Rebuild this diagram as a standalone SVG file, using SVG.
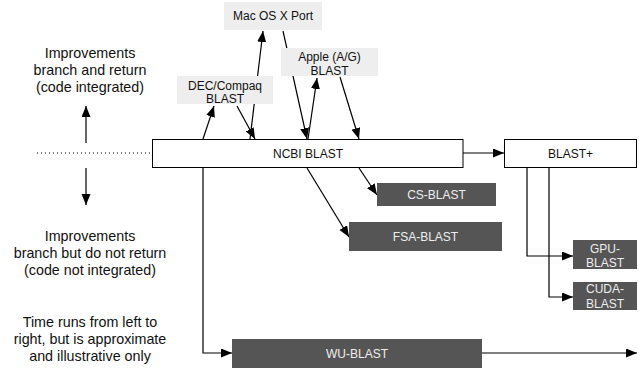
<svg xmlns="http://www.w3.org/2000/svg" width="639" height="370" viewBox="0 0 639 370">
<defs>
<marker id="ah" markerUnits="userSpaceOnUse" markerWidth="12" markerHeight="10" refX="11" refY="4.5" orient="auto">
<path d="M0,0 L11,4.5 L0,9 z" fill="#000"/>
</marker>
<style>
text{font-family:"Liberation Sans",Arial,Helvetica,sans-serif;text-anchor:middle}
.lg{font-size:14.3px;fill:#111}
.bx{font-size:12px;fill:#111}
.dk{font-size:12px;fill:#eeeeee}
.light{fill:#eeeeee}
.dark{fill:#555555}
.main{fill:#fff;stroke:#000;stroke-width:1}
.c{fill:none;stroke:#000;stroke-width:1.2}
.a{marker-end:url(#ah)}
</style>
</defs>
<rect width="639" height="370" fill="#fff"/>

<g id="legend">
<text class="lg" x="90" y="58">Improvements</text>
<text class="lg" x="90" y="75">branch and return</text>
<text class="lg" x="90" y="92">(code integrated)</text>
<text class="lg" x="90" y="240.5">Improvements</text>
<text class="lg" x="90" y="257.5">branch but do not return</text>
<text class="lg" x="90" y="274.5">(code not integrated)</text>
<text class="lg" x="90" y="326.5">Time runs from left to</text>
<text class="lg" x="90" y="343.5">right, but is approximate</text>
<text class="lg" x="90" y="360.5">and illustrative only</text>
<line x1="37" y1="153" x2="150" y2="153" stroke="#000" stroke-width="1" stroke-dasharray="1,3"/>
<line class="c a" x1="86" y1="143" x2="86" y2="106"/>
<line class="c a" x1="86" y1="168" x2="86" y2="205"/>
</g>

<g id="connectors">
<line class="c a" x1="203" y1="139" x2="214" y2="106"/>
<line class="c a" x1="237" y1="106" x2="255" y2="139"/>
<line class="c a" x1="250" y1="139" x2="263" y2="31"/>
<line class="c a" x1="283" y1="31" x2="307" y2="139"/>
<line class="c a" x1="308" y1="139" x2="317" y2="78"/>
<line class="c a" x1="340" y1="77" x2="359" y2="139"/>
<line class="c a" x1="359" y1="168" x2="377" y2="195"/>
<line class="c a" x1="307" y1="168" x2="349" y2="237"/>
<line class="c a" x1="463" y1="153" x2="504" y2="153"/>
<polyline class="c a" points="527,167 527,256 573,256"/>
<polyline class="c a" points="549,167 549,297 573,297"/>
<polyline class="c a" points="203,167 203,353 232,353"/>
<line class="c a" x1="482" y1="353" x2="637" y2="353"/>
</g>

<g id="mac">
<rect class="light" x="224" y="2" width="98" height="28"/>
<text class="bx" x="273" y="20">Mac OS X Port</text>
</g>
<g id="apple">
<rect class="light" x="281" y="48" width="97" height="28"/>
<text class="bx" x="329.5" y="61">Apple (A/G)</text>
<text class="bx" x="329.5" y="74.5">BLAST</text>
</g>
<g id="dec">
<rect class="light" x="177" y="76" width="96" height="28"/>
<text class="bx" x="225" y="89.5">DEC/Compaq</text>
<text class="bx" x="225" y="103">BLAST</text>
</g>
<g id="ncbi">
<rect class="main" x="152.5" y="139.5" width="310.5" height="28"/>
<text class="bx" x="308" y="157.5">NCBI BLAST</text>
</g>
<g id="blastplus">
<rect class="main" x="504.5" y="139.5" width="132" height="28"/>
<text class="bx" x="570.5" y="157.5">BLAST+</text>
</g>
<g id="cs">
<rect class="dark" x="377" y="183" width="119" height="23"/>
<text class="dk" x="436.5" y="199">CS-BLAST</text>
</g>
<g id="fsa">
<rect class="dark" x="349" y="222" width="153" height="29"/>
<text class="dk" x="425.5" y="241">FSA-BLAST</text>
</g>
<g id="gpu">
<rect class="dark" x="573" y="240" width="64" height="29"/>
<text class="dk" x="605" y="252.5">GPU-</text>
<text class="dk" x="605" y="267">BLAST</text>
</g>
<g id="cuda">
<rect class="dark" x="573" y="282" width="64" height="28"/>
<text class="dk" x="605" y="293">CUDA-</text>
<text class="dk" x="605" y="308">BLAST</text>
</g>
<g id="wu">
<rect class="dark" x="232" y="339" width="250" height="29"/>
<text class="dk" x="357" y="357.5">WU-BLAST</text>
</g>
</svg>
